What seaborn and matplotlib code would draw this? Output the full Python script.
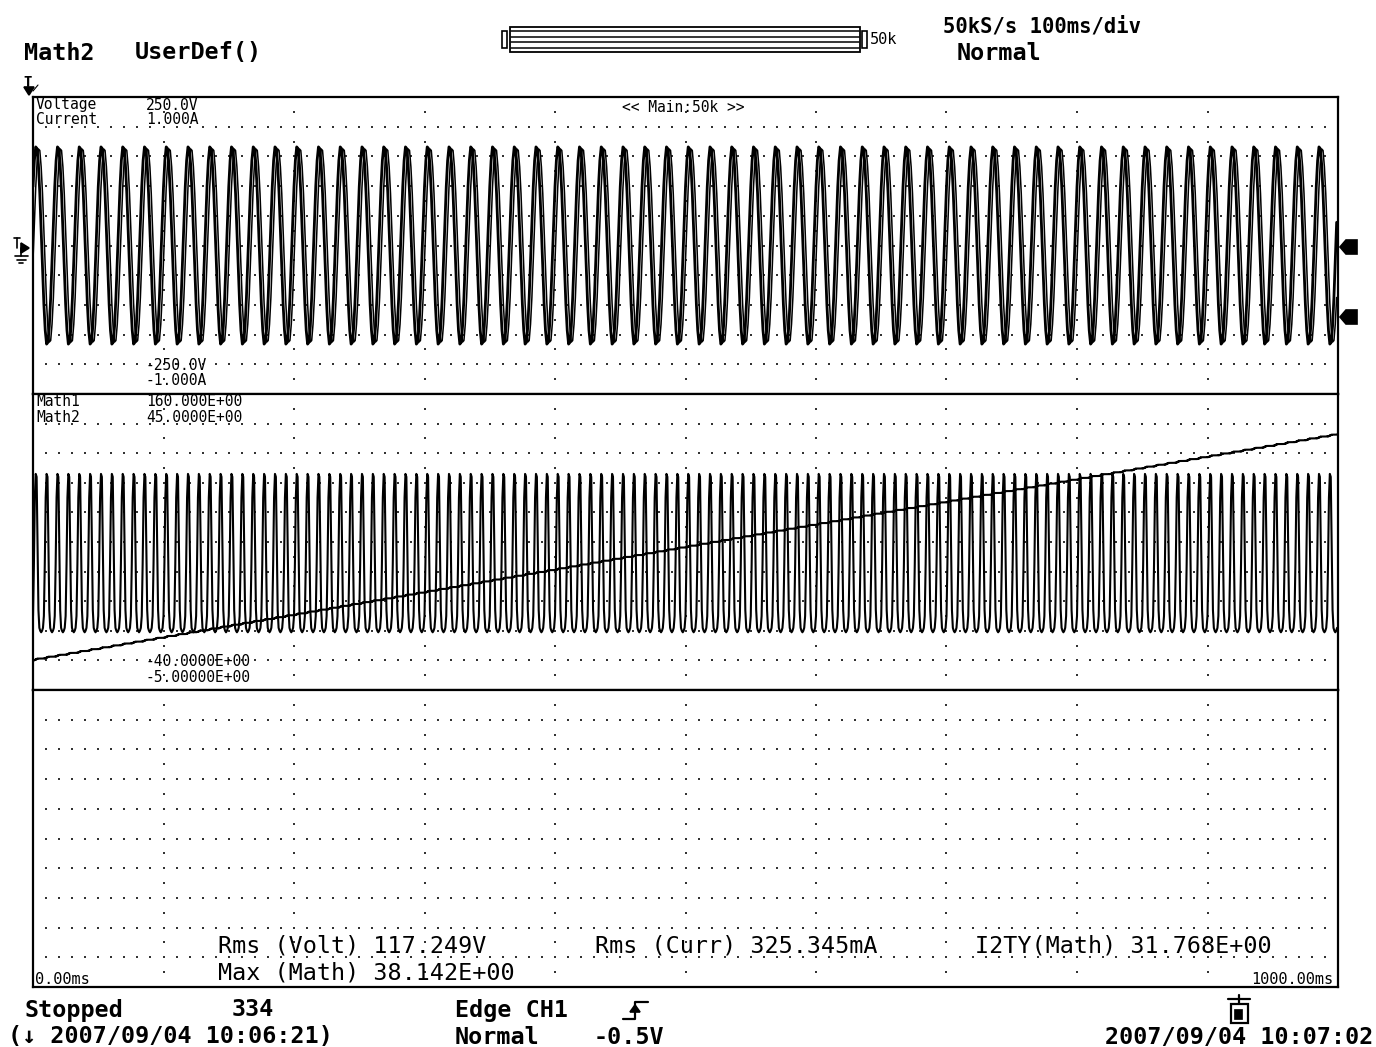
import numpy as np
import matplotlib
matplotlib.use('Agg')
import matplotlib.pyplot as plt
import seaborn as sns
from matplotlib.patches import Rectangle, Polygon
from matplotlib.lines import Line2D

# one 60 Hz cycle of each input channel (16 samples per 16.7 ms)
volt_cycle = [99, 143, 166, 163, 136, 88, 26, -39, -99, -143, -166, -163, -136, -88, -26, 39]
curr_cycle = [-0.10, 0.15, 0.39, 0.56, 0.65, 0.64, 0.53, 0.35,
              0.10, -0.15, -0.39, -0.56, -0.65, -0.64, -0.53, -0.35]
n_cycles = 60

# Math1 (instantaneous power), one 120 Hz cycle, 12 samples
math1_cycle = [10, 45, 90, 106, 104, 60, 14, 2, 0, -1, 0, 2]
math2_end = 38.142   # Max (Math)

volt_range = (-250.0, 250.0)
curr_range = (-1.0, 1.0)
math1_range = (-40.0, 160.0)
math2_range = (-5.0, 45.0)
t_range = (0.0, 1000.0)

volt = np.tile(volt_cycle, n_cycles)
curr = np.tile(curr_cycle, n_cycles)
t_v = np.linspace(t_range[0], t_range[1], len(volt), endpoint=False)
math1 = np.tile(math1_cycle, 2 * n_cycles)
t_m = np.linspace(t_range[0], t_range[1], len(math1), endpoint=False)
math2 = np.cumsum(math1) / np.sum(math1) * math2_end  # Math2 = integral of Math1

sns.set_style('white')
plt.rcParams['font.family'] = ['DejaVu Sans Mono', 'DejaVu Sans']

W, H = 1376, 1047
fig = plt.figure(figsize=(W / 100, H / 100), dpi=100)


def fx(x):
    return x / W


def fy(y):
    return 1 - y / H


def label(x, y, s, size, ha='left', bold=False):
    fig.text(fx(x), fy(y), s, ha=ha, va='center', fontsize=size,
             fontweight='bold' if bold else 'normal', color='black')


def poly(pts, filled=True, lw=1.2):
    p = Polygon([(fx(a), fy(b)) for a, b in pts], closed=True, transform=fig.transFigure,
                facecolor='black' if filled else 'none', edgecolor='black', lw=lw)
    fig.add_artist(p)


def line(pts, lw=1.2):
    fig.add_artist(Line2D([fx(a) for a, b in pts], [fy(b) for a, b in pts],
                          transform=fig.transFigure, color='black', lw=lw))


L, R = 33, 1338
tops = [97, 394, 690]
bots = [394, 690, 987]
panels = []
for t, b in zip(tops, bots):
    ax = fig.add_axes([fx(L), fy(b), (R - L) / W, (b - t) / H])
    ax.set_xlim(*t_range)
    for s in ax.spines.values():
        s.set_color('black')
        s.set_linewidth(1.6)
    # dotted graticule
    gx, gy = [], []
    for k in range(1, 10):
        gx += list(np.arange(101) / 100)
        gy += [k / 10] * 101
        gx += [k / 10] * 21
        gy += list(np.arange(21) / 20)
    ax.scatter(gx, gy, transform=ax.transAxes, marker='s', s=1.3, color='#333333',
               linewidths=0, zorder=1)
    ax.set_xticks([])
    ax.set_yticks([])
    panels.append(ax)

ax1, ax2, ax3 = panels

# panel 1: voltage / current
sns.lineplot(x=t_v, y=volt, ax=ax1, color='black', linewidth=2.0, estimator=None, sort=False)
ax1.set(xlim=t_range, ylim=volt_range, xticks=[], yticks=[], xlabel='', ylabel='')
ax1b = ax1.twinx()
sns.lineplot(x=t_v, y=curr, ax=ax1b, color='black', linewidth=1.1, estimator=None, sort=False)
ax1b.set(xlim=t_range, ylim=curr_range, xticks=[], yticks=[], xlabel='', ylabel='')
for s in ax1b.spines.values():
    s.set_visible(False)

# panel 2: Math1 / Math2
sns.lineplot(x=t_m, y=math1, ax=ax2, color='black', linewidth=1.5, estimator=None, sort=False)
ax2.set(xlim=t_range, ylim=math1_range, xticks=[], yticks=[], xlabel='', ylabel='')
ax2b = ax2.twinx()
sns.lineplot(x=t_m, y=math2, ax=ax2b, color='black', linewidth=1.5, estimator=None, sort=False,
             drawstyle='steps-post')
ax2b.set(xlim=t_range, ylim=math2_range, xticks=[], yticks=[], xlabel='', ylabel='')
for s in ax2b.spines.values():
    s.set_visible(False)
ax3.set_ylim(0, 1)

# header
label(24, 53, 'Math2', 16.8, bold=True)
label(135, 53, 'UserDef()', 16.8, bold=True)
label(943, 27, '50kS/s 100ms/div', 14.8, bold=True)
label(957, 54, 'Normal', 16.8, bold=True)
label(870, 40, '50k', 11)
fig.add_artist(Rectangle((fx(510), fy(52)), fx(350), 25 / H, transform=fig.transFigure,
                         fill=False, ec='black', lw=1.3))
for yy in (31, 37, 42, 48):
    line([(511, yy), (859, yy)], lw=1.1)
for x0 in (502, 862):
    fig.add_artist(Rectangle((fx(x0), fy(48)), fx(5), 17 / H, transform=fig.transFigure,
                             fill=False, ec='black', lw=1.2))

# trigger position marker
label(23, 82, 'T', 10, bold=True)
line([(28, 77), (28, 90)], lw=1.2)
poly([(24, 87), (34, 87), (29, 95)])
line([(33, 91), (38, 85)], lw=0.8)

# ground marker left
line([(14, 238), (20, 238)], lw=1.2)
line([(17, 238), (17, 248)], lw=1.2)
poly([(21, 243), (21, 253), (29, 248)])
line([(21, 248), (21, 256)], lw=1.2)
line([(15, 256), (28, 256)], lw=1.2)
line([(17, 259.5), (26, 259.5)], lw=1.2)
line([(19, 263), (23, 263)], lw=1.2)

# channel markers right
for yy in (247, 317):
    poly([(1340, yy), (1346, yy - 7), (1357, yy - 7), (1357, yy + 7), (1346, yy + 7)])

# channel labels
small = 10.5
label(36, 105, 'Voltage', small)
label(36, 120, 'Current', small)
label(146, 105, '250.0V', small)
label(146, 120, '1.000A', small)
label(146, 366, '-250.0V', small)
label(146, 381, '-1.000A', small)
label(683, 108, '<< Main:50k >>', small, ha='center')
label(36, 402, 'Math1', small)
label(36, 417, 'Math2', small)
label(146, 402, '160.000E+00', small)
label(146, 417, '45.0000E+00', small)
label(146, 662, '-40.0000E+00', small)
label(146, 677, '-5.00000E+00', small)

# measurements
label(218, 946, 'Rms (Volt) 117.249V', 16.8)
label(595, 946, 'Rms (Curr) 325.345mA', 16.8)
label(975, 946, 'I2TY(Math) 31.768E+00', 16.8)
label(218, 973, 'Max (Math) 38.142E+00', 16.8)
label(35, 980, '0.00ms', 11)
label(1333, 980, '1000.00ms', 11, ha='right')

# footer
label(24, 1010, 'Stopped', 16.8, bold=True)
label(232, 1010, '334', 16.8, bold=True)
label(455, 1010, 'Edge CH1', 16.8, bold=True)
label(8, 1037, '(\u2193 2007/09/04 10:06:21)', 16.8, bold=True)
label(455, 1037, 'Normal', 16.8, bold=True)
label(594, 1037, '-0.5V', 16.8, bold=True)
label(1373, 1037, '2007/09/04 10:07:02', 16.8, ha='right', bold=True)

# trigger slope icon
line([(623, 1019), (635, 1019), (635, 1002), (648, 1002)], lw=1.6)
poly([(630, 1012), (640, 1012), (635, 1005)])

# printer icon
line([(1228, 999), (1250, 999)], lw=1.6)
line([(1239, 995), (1239, 1003)], lw=1.6)
fig.add_artist(Rectangle((fx(1231), fy(1023)), fx(17), 19 / H, transform=fig.transFigure,
                         fill=False, ec='black', lw=1.6))
fig.add_artist(Rectangle((fx(1234), fy(1019)), fx(8), 10 / H, transform=fig.transFigure,
                         fc='black', ec='black', lw=0.5))

fig.savefig('out.png', dpi=100)
